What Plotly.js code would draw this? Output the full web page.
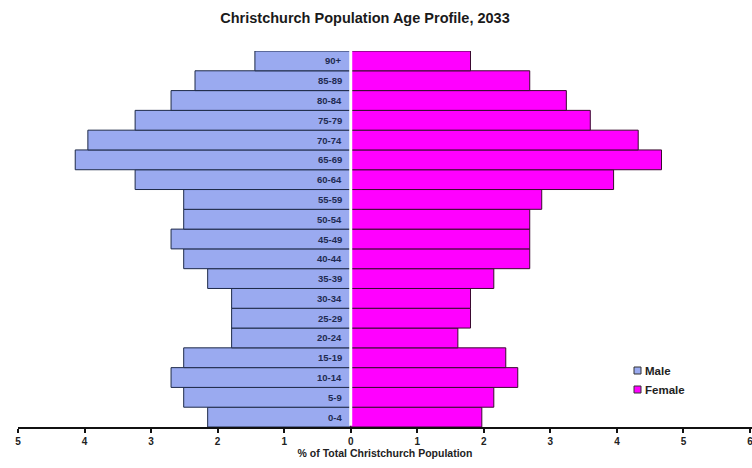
<!DOCTYPE html>
<html>
<head>
<meta charset="utf-8">
<script src="https://cdn.plot.ly/plotly-3.0.1.min.js"></script>
<style>html,body{margin:0;padding:0;background:#fff;}#chart{width:752px;height:468px;}</style>
</head>
<body>
<div id="chart"></div>
<script>
const ageGroups = ["0-4","5-9","10-14","15-19","20-24","25-29","30-34","35-39","40-44","45-49","50-54","55-59","60-64","65-69","70-74","75-79","80-84","85-89","90+"];
const malePct   = [2.15,2.51,2.70,2.51,1.79,1.79,1.79,2.15,2.51,2.70,2.51,2.51,3.24,4.14,3.95,3.24,2.70,2.34,1.44];
const femalePct = [1.97,2.15,2.51,2.33,1.61,1.80,1.80,2.15,2.69,2.69,2.69,2.87,3.95,4.67,4.32,3.60,3.24,2.69,1.80];
const tickValues = [-5,-4,-3,-2,-1,0,1,2,3,4,5,6];
const tickLabels = ["5","4","3","2","1","0","1","2","3","4","5","6"];
const seriesNames = ["Male", "Female"];
const seriesColors = ["#9aaaf0", "#ff00ff"];
const seriesLines = ["#1e2a48", "#3a0a30"];

const FONT = "'Liberation Sans', Arial, sans-serif";

const male = {
  type: 'bar', orientation: 'h', name: seriesNames[0],
  y: ageGroups, x: malePct.map(v => -v),
  marker: {color: seriesColors[0], line: {color: seriesLines[0], width: 1}},
  hoverinfo: 'skip'
};
const female = {
  type: 'bar', orientation: 'h', name: seriesNames[1],
  y: ageGroups, x: femalePct,
  marker: {color: seriesColors[1], line: {color: seriesLines[1], width: 1}},
  hoverinfo: 'skip'
};

const labelAnnotations = ageGroups.map(g => ({
  x: 0, y: g, xref: 'x', yref: 'y', text: '<b>' + g + '</b>',
  showarrow: false, xanchor: 'right', xshift: -7,
  font: {family: FONT, size: 9.5, color: '#1e2a50'}
}));

const legendShapes = [];
const legendAnn = [];
const legTop = [367, 386];
seriesNames.forEach((n, i) => {
  const y0 = legTop[i], y1 = legTop[i] + 7;
  legendShapes.push({type: 'rect', xref: 'paper', yref: 'paper',
    x0: (634 - 18) / 734, x1: (641 - 18) / 734,
    y0: (427 - y1) / 376, y1: (427 - y0) / 376,
    fillcolor: seriesColors[i], line: {color: '#333', width: 1}});
  legendAnn.push({xref: 'paper', yref: 'paper', x: (643 - 18) / 734, y: (427 - (y0 + 3.5)) / 376,
    xanchor: 'left', yanchor: 'middle', showarrow: false, text: '<b>' + n + '</b>',
    font: {family: FONT, size: 11.5, color: '#222'}});
});

const layout = {
  width: 752, height: 468,
  margin: {l: 18, r: 0, t: 51, b: 41},
  paper_bgcolor: '#ffffff', plot_bgcolor: '#ffffff',
  barmode: 'overlay', bargap: 0,
  title: {text: '<b>Christchurch Population Age Profile, 2033</b>', x: 365/752, xanchor: 'center', xref: 'container', y: 1 - 18/468, yref: 'container', yanchor: 'middle', font: {family: FONT, size: 14.5, color: '#1a1a1a'}},
  xaxis: {
    range: [-5, 6.03], tickvals: tickValues, ticktext: tickLabels, ticklabeloverflow: 'allow',
    showgrid: false, zeroline: false, showline: true, linecolor: '#111', linewidth: 2,
    ticks: 'outside', ticklen: 4, tickwidth: 2, tickcolor: '#111',
    tickfont: {family: FONT, size: 10, color: '#222', weight: 'bold'},
    title: {text: '<b>% of Total Christchurch Population</b>', font: {family: FONT, size: 10.5, color: '#222'}, standoff: 4},
    fixedrange: true
  },
  yaxis: {
    type: 'category', categoryorder: 'array', categoryarray: ageGroups,
    showticklabels: false, showgrid: false, zeroline: false, showline: false, ticks: '',
    fixedrange: true
  },
  showlegend: false,
  shapes: [{type: 'line', xref: 'x', yref: 'paper', x0: 0, x1: 0, y0: 0.003, y1: 1, line: {color: '#ffffff', width: 3}, layer: 'above'}].concat(legendShapes),
  annotations: labelAnnotations.concat(legendAnn)
};

Plotly.newPlot('chart', [male, female], layout, {displayModeBar: false, staticPlot: true});
</script>
</body>
</html>
